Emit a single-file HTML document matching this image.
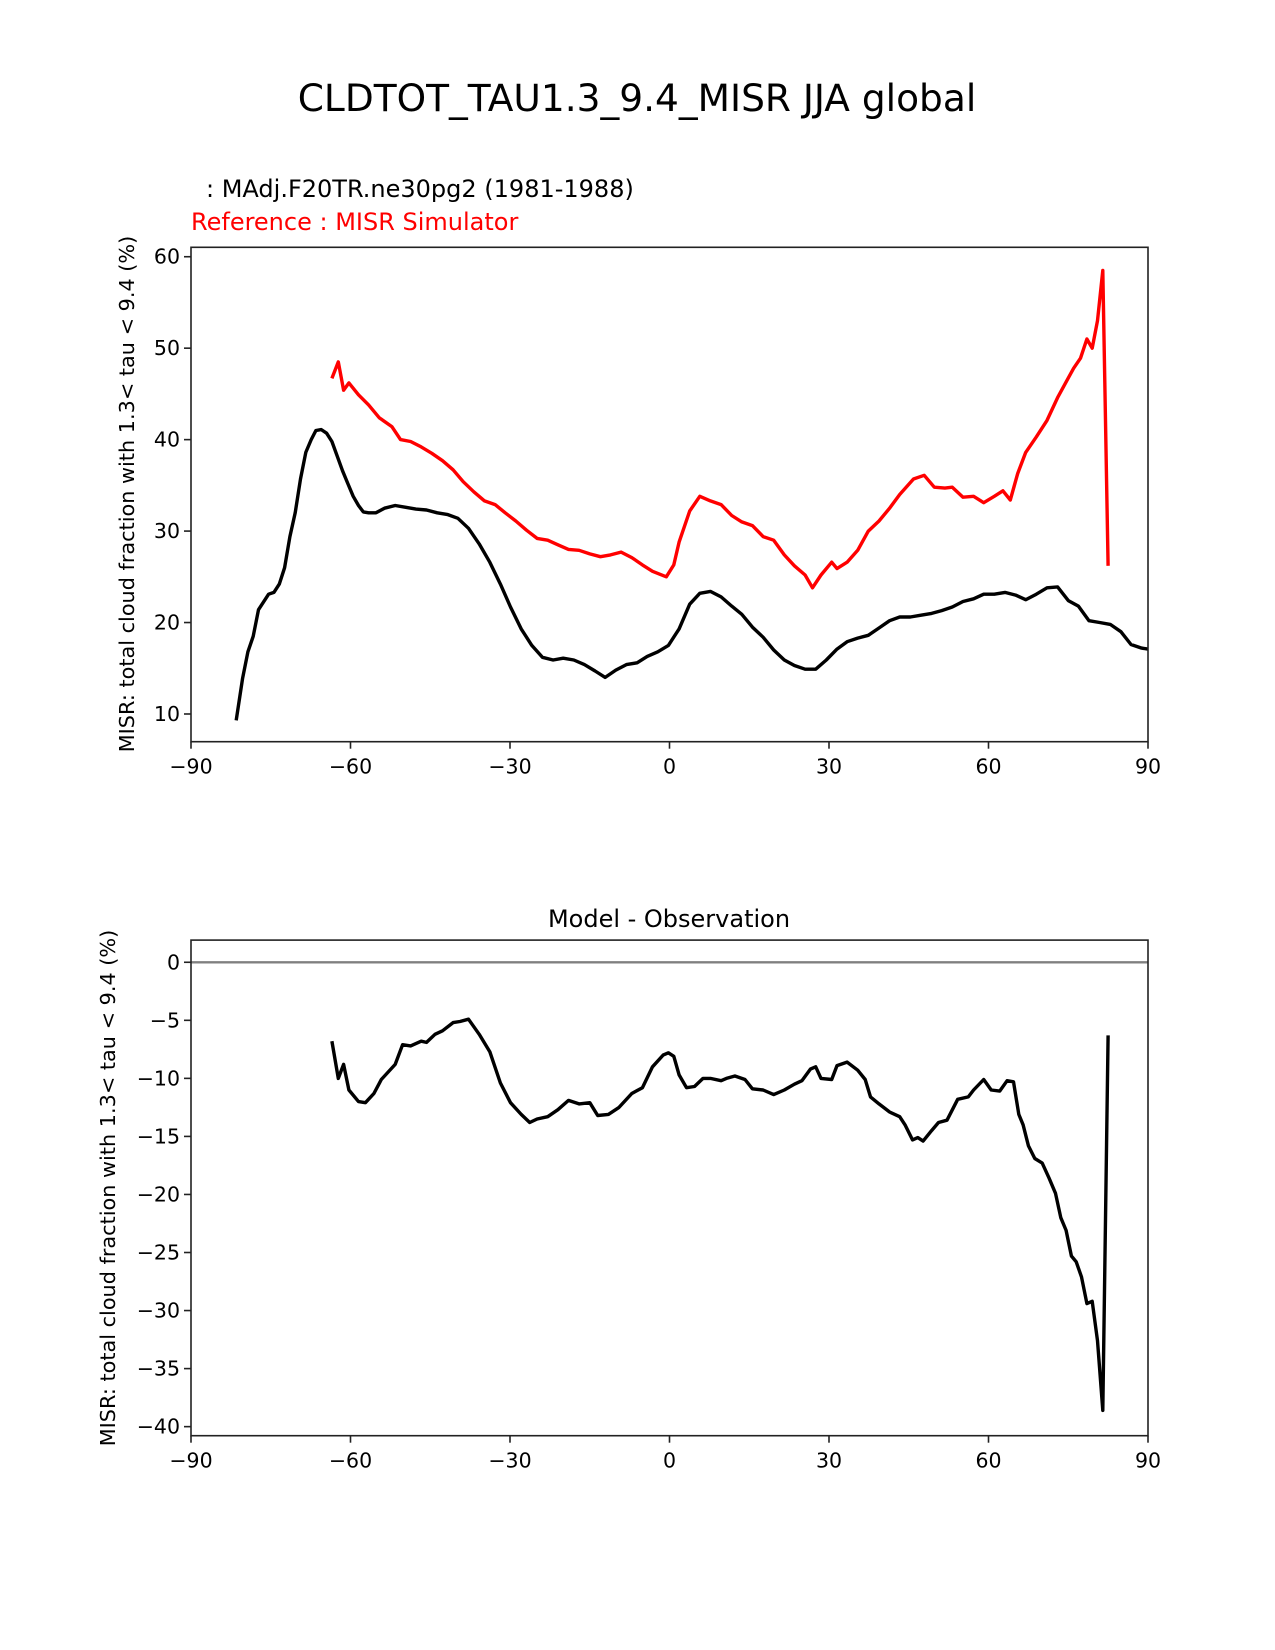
<!DOCTYPE html>
<html><head><meta charset="utf-8"><style>
html,body{margin:0;padding:0;background:#fff;}
svg{display:block;font-family:"DejaVu Sans","Liberation Sans",sans-serif;}
</style></head><body>
<svg id="fig" width="1275" height="1650" viewBox="0 0 1275 1650" xmlns="http://www.w3.org/2000/svg">
<rect width="1275" height="1650" fill="#fff"/>
<text x="637" y="111" font-size="37.5" text-anchor="middle">CLDTOT_TAU1.3_9.4_MISR JJA global</text>
<text x="206" y="197" font-size="24">: MAdj.F20TR.ne30pg2 (1981-1988)</text>
<text x="191" y="230" font-size="24" fill="#ff0000">Reference : MISR Simulator</text>
<text x="669" y="927" font-size="24" text-anchor="middle">Model - Observation</text>
<text transform="translate(134,494) rotate(-90)" font-size="20.8" text-anchor="middle">MISR: total cloud fraction with 1.3&lt; tau &lt; 9.4 (%)</text>
<text transform="translate(115,1188) rotate(-90)" font-size="20.8" text-anchor="middle">MISR: total cloud fraction with 1.3&lt; tau &lt; 9.4 (%)</text>
<g id="top"></g><g id="bot"></g>
</svg>
<script>
const xTicks=[-90,-60,-30,0,30,60,90];
const xTickLabels=["\u221290","\u221260","\u221230","0","30","60","90"];
const topYTicks=[10,20,30,40,50,60];
const botYTicks=[0,-5,-10,-15,-20,-25,-30,-35,-40];
const modelLat=[-81.5,-80.3,-79.3,-78.3,-77.3,-75.4,-74.4,-73.4,-72.4,-71.4,-70.4,-69.4,-68.4,-67.4,-66.5,-65.5,-64.5,-63.5,-62.5,-61.5,-60.5,-59.5,-58.5,-57.6,-56.6,-55.2,-53.6,-51.6,-49.6,-47.7,-45.7,-43.7,-41.7,-39.8,-37.8,-35.8,-33.8,-31.8,-29.9,-27.9,-25.9,-23.9,-21.9,-20,-18,-16,-14,-12.1,-10.1,-8.1,-6.1,-4.2,-2.2,-0.2,1.8,3.8,5.7,7.7,9.7,11.7,13.6,15.6,17.6,19.6,21.6,23.5,25.5,27.5,29.5,31.5,33.4,35.4,37.4,39.4,41.4,43.3,45.3,47.3,49.3,51.2,53.2,55.2,57.2,59.1,61.1,63.1,65.1,67,69,71,73,75,76.9,78.9,80.9,82.9,84.9,86.8,88.8,90];
const modelVal=[9.3,13.9,16.8,18.5,21.4,23.1,23.3,24.2,26,29.4,32,35.7,38.6,40,41,41.1,40.7,39.8,38.2,36.6,35.2,33.8,32.8,32.1,32,32,32.5,32.8,32.6,32.4,32.3,32,31.8,31.4,30.3,28.6,26.6,24.2,21.7,19.3,17.5,16.2,15.9,16.1,15.9,15.4,14.7,14,14.8,15.4,15.6,16.3,16.8,17.5,19.3,22,23.2,23.4,22.8,21.8,20.9,19.5,18.4,17,15.9,15.3,14.9,14.9,15.9,17.1,17.9,18.3,18.6,19.4,20.2,20.6,20.6,20.8,21,21.3,21.7,22.3,22.6,23.1,23.1,23.3,23,22.5,23.1,23.8,23.9,22.4,21.8,20.2,20,19.8,19,17.6,17.2,17.1];
const refLat=[-63.5,-62.3,-61.3,-60.3,-58.5,-56.6,-54.6,-52.2,-50.6,-48.7,-46.7,-44.7,-42.7,-40.7,-38.8,-36.8,-34.8,-32.8,-30.9,-28.9,-26.9,-24.9,-22.9,-21,-19,-17,-15,-13,-11.1,-9.1,-7.1,-5.1,-3.2,-0.6,0.8,1.8,3.8,5.7,7.7,9.7,11.7,13.6,15.6,17.6,19.6,21.6,23.5,25.5,26.9,28.5,30.5,31.5,33.4,35.4,37.4,39.4,41.4,43.3,45.9,47.9,49.8,51.8,53.2,55.2,57.2,59.1,61.1,62.7,64.1,65.5,67,69,71,73,74.4,76,77.3,78.5,79.5,80.5,81.5,82.5];
const refVal=[46.7,48.5,45.4,46.2,44.9,43.8,42.4,41.4,40,39.8,39.2,38.5,37.7,36.7,35.4,34.3,33.3,32.9,32,31.1,30.1,29.2,29,28.5,28,27.9,27.5,27.2,27.4,27.7,27.1,26.3,25.6,25,26.3,28.8,32.2,33.8,33.3,32.9,31.7,31,30.6,29.4,29,27.4,26.2,25.2,23.8,25.2,26.6,25.9,26.6,27.9,30,31.1,32.5,34,35.7,36.1,34.8,34.7,34.8,33.7,33.8,33.1,33.8,34.4,33.4,36.3,38.6,40.3,42.1,44.6,46.1,47.8,48.9,51,50,53,58.5,26.2];
const diffLat=[-63.5,-62.3,-61.3,-60.3,-58.5,-57.2,-55.6,-54.2,-51.6,-50.2,-48.7,-46.7,-45.7,-44.1,-42.7,-40.7,-39.4,-37.8,-35.8,-33.8,-31.8,-29.9,-27.9,-26.3,-24.9,-22.9,-21,-19,-17,-15,-13.5,-11.5,-9.5,-7.1,-5.1,-3.2,-1.2,-0.2,0.8,1.8,3.2,4.7,6.3,7.7,9.7,10.7,12.3,14.2,15.6,17.6,19.6,21.6,23.5,24.9,26.5,27.5,28.5,30.5,31.5,33.4,35.4,36.8,37.8,39.4,41.4,43.3,44.3,45.7,46.7,47.7,49.3,50.6,52.2,54.2,56.2,57.2,59.1,60.5,62.1,63.5,64.7,65.7,66.5,67.5,68.7,70.1,71.4,72.6,73.6,74.6,75.6,76.5,77.5,78.5,79.5,80.5,81.5,82.5];
const diffVal=[-6.8,-10,-8.8,-11,-12,-12.1,-11.3,-10.1,-8.8,-7.1,-7.2,-6.8,-6.9,-6.2,-5.9,-5.2,-5.1,-4.9,-6.2,-7.7,-10.4,-12.1,-13.1,-13.8,-13.5,-13.3,-12.7,-11.9,-12.2,-12.1,-13.2,-13.1,-12.5,-11.3,-10.8,-9,-8,-7.8,-8.1,-9.7,-10.8,-10.7,-10,-10,-10.2,-10,-9.8,-10.1,-10.9,-11,-11.4,-11,-10.5,-10.2,-9.2,-9,-10,-10.1,-8.9,-8.6,-9.3,-10.1,-11.6,-12.2,-12.9,-13.3,-14,-15.3,-15.1,-15.4,-14.5,-13.8,-13.6,-11.8,-11.6,-11,-10.1,-11,-11.1,-10.2,-10.3,-13.1,-14,-15.8,-16.9,-17.3,-18.6,-19.9,-22,-23.1,-25.3,-25.8,-27.1,-29.4,-29.2,-32.6,-38.6,-6.3];

const NS="http://www.w3.org/2000/svg";
function mk(parent,tag,attrs){const e=document.createElementNS(NS,tag);for(const k in attrs)e.setAttribute(k,attrs[k]);parent.appendChild(e);return e;}
const X0=191,X1=1148;
function sx(v){return X0+(v+90)/180*(X1-X0);}
function panel(top,bottom,ymin,ymax){
  return v=>bottom-(v-ymin)/(ymax-ymin)*(bottom-top);
}
function axes(g,top,bottom,sy,yTicks,name){
  const box=mk(g,'rect',{x:X0,y:top,width:X1-X0,height:bottom-top,fill:'none',stroke:'#222','stroke-width':1.6});
  
  
  xTicks.forEach((t,i)=>{
    const x=sx(t);
    const tk=mk(g,'line',{x1:x,x2:x,y1:bottom,y2:bottom+7,stroke:'#222','stroke-width':1.6});
    
    
    const tl=mk(g,'text',{x:x,y:bottom+32,'font-size':20.5,'text-anchor':'middle'});
    tl.textContent=xTickLabels[i];
    
    
  });
  yTicks.forEach(t=>{
    const y=sy(t);
    const tk=mk(g,'line',{x1:X0-7,x2:X0,y1:y,y2:y,stroke:'#222','stroke-width':1.6});
    
    
    const tl=mk(g,'text',{x:X0-11,y:y+7,'font-size':20.5,'text-anchor':'end'});
    tl.textContent=String(t).replace('-','\u2212');
    
    
  });
}
function line(g,lats,vals,sy,color,name){
  const d=lats.map((la,i)=>(i?'L':'M')+sx(la).toFixed(1)+' '+sy(vals[i]).toFixed(1)).join(' ');
  const p=mk(g,'path',{d:d,fill:'none',stroke:color,'stroke-width':3.4,'stroke-linejoin':'round'});
  
  
}
const gT=document.getElementById('top');
const syT=panel(247.3,741.7,6.97,61.03);
line(gT,refLat,refVal,syT,'#ff0000','reference-line');
line(gT,modelLat,modelVal,syT,'#000','model-line');
axes(gT,247.3,741.7,syT,topYTicks,'top');
const gB=document.getElementById('bot');
const syB=panel(940.1,1435.7,-40.78,1.91);
const z=mk(gB,'line',{x1:X0,x2:X1,y1:syB(0),y2:syB(0),stroke:'#808080','stroke-width':2.4});


line(gB,diffLat,diffVal,syB,'#000','difference-line');
axes(gB,940.1,1435.7,syB,botYTicks,'bottom');
</script>
</body></html>
